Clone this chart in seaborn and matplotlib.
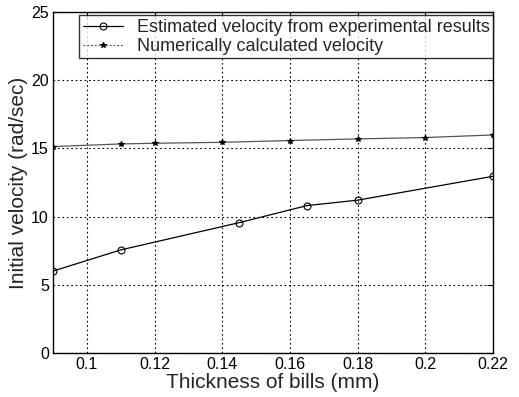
import matplotlib
matplotlib.use("Agg")
import matplotlib.pyplot as plt
import seaborn as sns
import pandas as pd

exp_x = [0.09, 0.11, 0.145, 0.165, 0.18, 0.22]
exp_y = [6.0, 7.55, 9.55, 10.8, 11.2, 12.95]
num_x = [0.09, 0.11, 0.12, 0.14, 0.16, 0.18, 0.20, 0.22]
num_y = [15.13, 15.32, 15.37, 15.44, 15.57, 15.69, 15.79, 15.98]
xticks = [0.1, 0.12, 0.14, 0.16, 0.18, 0.2, 0.22]
xtick_labels = ["0.1", "0.12", "0.14", "0.16", "0.18", "0.2", "0.22"]
yticks = [0, 5, 10, 15, 20, 25]

sns.set_style("white")
plt.rcParams['font.family'] = ['Liberation Sans', 'DejaVu Sans']

fig = plt.figure(figsize=(5.19, 3.97), dpi=100)
ax = fig.add_axes([0.102, 0.111, 0.848, 0.859])

df_exp = pd.DataFrame({"x": exp_x, "y": exp_y})
df_num = pd.DataFrame({"x": num_x, "y": num_y})

sns.lineplot(data=df_exp, x="x", y="y", ax=ax, color="black", lw=0.9,
             marker="o", markersize=5, markerfacecolor="none",
             markeredgecolor="black", markeredgewidth=0.8,
             label="Estimated velocity from experimental results")
sns.lineplot(data=df_num, x="x", y="y", ax=ax, color="#555555", lw=0.9,
             marker="*", markersize=4, markerfacecolor="black",
             markeredgecolor="black",
             label="Numerically calculated velocity")

ax.set_xlim(0.09, 0.22)
ax.set_ylim(0, 25)
ax.set_xticks(xticks)
ax.set_xticklabels(xtick_labels)
ax.set_yticks(yticks)
ax.grid(True, color="black", linestyle=(0, (1.5, 2.5)), linewidth=0.8)
ax.tick_params(direction="in", top=True, right=True, labelsize=11.5, length=4, pad=3, colors="black")
for s in ax.spines.values():
    s.set_color("black")
    s.set_linewidth(1.0)

ax.set_xlabel("Thickness of bills (mm)", fontsize=15, labelpad=1)
ax.set_ylabel("Initial velocity (rad/sec)", fontsize=15, labelpad=2)

leg = ax.legend(loc="upper right", bbox_to_anchor=(1.005, 0.995), fontsize=13,
                frameon=True, fancybox=False, edgecolor="black",
                borderpad=0.2, handlelength=2.2, labelspacing=0.1, borderaxespad=0.1)
leg.get_frame().set_linewidth(1.0)
hl = leg.get_lines()
hl[1].set_linestyle((0, (1.5, 1.5)))

fig.savefig("out.png", dpi=100)
